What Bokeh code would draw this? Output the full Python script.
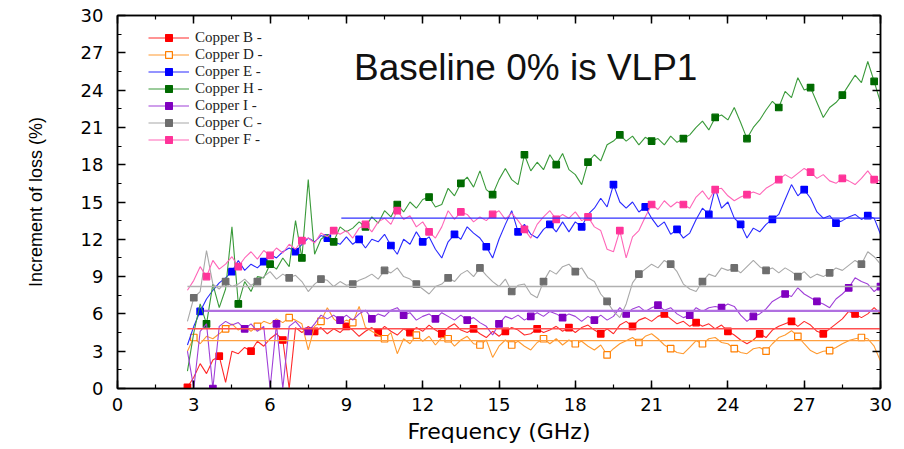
import numpy as np
from bokeh.plotting import figure
from bokeh.models import Range1d, SingleIntervalTicker, LinearAxis, Legend, LegendItem, Label
from bokeh.embed import file_html
from bokeh.resources import INLINE

# ---------------- data ----------------
freq = np.round(np.arange(2.75, 30.001, 0.25), 2)   # GHz sample grid, 110 points

copper_b = [0.1, 0.9, 2.0, 1.2, 2.3, 2.6, 0.5, 3.0, 2.8, 3.3,
            3.0, 3.8, 3.4, 4.0, 4.4, 3.9, 0.0, 4.9, 4.5, 5.0,
            4.6, 4.9, 4.4, 4.8, 4.5, 5.0, 4.7, 4.2, 4.6, 4.9,
            4.5, 5.0, 4.6, 4.3, 4.8, 4.5, 4.9, 4.6, 5.1, 4.7,
            4.4, 4.9, 5.2, 4.7, 4.5, 4.8, 4.4, 4.1, 4.6, 4.2,
            4.6, 4.9, 4.7, 4.3, 4.4, 4.8, 4.5, 4.7, 5.0, 4.6,
            4.9, 4.5, 4.9, 5.1, 4.7, 4.4, 4.8, 4.4, 5.1, 5.4,
            5.0, 5.5, 5.7, 5.4, 5.8, 6.0, 5.6, 5.2, 5.4, 5.0,
            5.3, 5.0, 5.2, 4.8, 5.1, 4.6, 4.3, 3.9, 3.6, 3.9,
            4.4, 4.1, 4.7, 5.0, 5.2, 5.4, 5.0, 5.4, 5.1, 4.6,
            4.4, 4.8, 5.2, 5.6, 6.2, 6.0, 5.7, 6.0, 6.5, 6.0]

copper_d = [3.0, 4.1, 3.6, 4.2, 4.0, 4.4, 4.8, 5.2, 4.7, 5.0,
            4.6, 5.0, 5.4, 5.2, 5.6, 5.3, 5.7, 5.5, 5.2, 3.1,
            5.0, 5.4, 6.5, 5.6, 5.2, 5.5, 5.3, 6.6, 4.9, 4.6,
            4.3, 4.0, 4.5, 2.8, 4.0, 3.6, 4.3, 3.8, 4.2, 3.5,
            4.1, 4.0, 3.4, 3.9, 4.2, 3.6, 3.5, 3.9, 2.5, 3.4,
            3.9, 3.5, 3.8, 3.4, 3.1, 3.7, 4.0, 3.6, 4.0, 3.5,
            3.9, 3.6, 3.8, 3.4, 3.1, 3.5, 2.7, 3.2, 3.6, 3.85,
            4.1, 3.7, 4.2, 4.4, 4.0, 3.5, 3.2, 2.9, 2.8, 3.3,
            3.85, 3.6, 4.0, 4.1, 3.7, 3.6, 3.2, 2.9, 2.8, 3.2,
            3.3, 3.0, 3.6, 4.1, 4.3, 4.65, 4.2, 3.6, 3.05, 2.8,
            3.0, 3.05, 3.3, 3.6, 3.85, 4.0, 4.1, 4.0, 3.4, 2.2]

copper_e = [3.5, 5.0, 6.2, 7.2, 7.9, 8.5, 8.9, 9.4, 10.3, 9.5,
            10.0, 9.7, 10.2, 10.8, 10.5, 11.0, 11.3, 11.0, 11.6, 12.1,
            11.8, 12.3, 12.1, 11.8, 11.6, 12.2, 11.6, 12.0, 11.3, 12.0,
            11.8, 12.4, 11.5, 10.8, 12.0, 11.6, 12.6, 11.8, 12.2, 11.2,
            10.5, 11.8, 12.4, 12.0, 13.0, 12.5, 12.1, 11.4, 10.5, 12.0,
            13.2, 14.3, 12.6, 13.2, 12.4, 12.1, 12.8, 13.2, 12.6, 13.4,
            12.6, 13.4, 13.0, 14.0, 14.5, 15.3, 14.6, 16.4, 15.0, 14.5,
            15.0, 14.2, 14.6, 13.7, 13.0, 13.4, 12.4, 12.8, 12.1, 12.5,
            13.6, 14.5, 14.0, 16.1, 14.5, 15.0, 13.7, 13.2, 12.1, 12.9,
            12.6, 13.2, 13.6, 14.0, 15.2, 16.4, 15.5, 16.0, 15.3, 14.2,
            13.7, 13.9, 13.3, 13.5, 13.8, 14.0, 13.6, 13.9, 13.7, 12.4]

copper_h = [1.4, 4.5, 6.8, 5.2, 8.4, 6.5, 8.0, 13.0, 6.8, 8.6,
            7.8, 9.0, 8.9, 10.0, 9.6, 10.5, 9.8, 13.5, 10.5, 16.8,
            10.8, 12.0, 12.4, 11.8, 13.0, 12.6, 12.9, 13.4, 13.0, 13.8,
            13.3, 14.3, 13.8, 14.8, 14.2, 15.0, 14.5, 15.2, 15.4, 14.6,
            14.8, 16.1, 15.5, 16.5, 17.0, 16.2, 17.5, 16.0, 15.6, 16.8,
            17.7, 16.8, 16.4, 18.8, 17.5, 18.2, 17.6, 18.8, 18.0, 18.9,
            17.6, 17.2, 16.4, 18.2, 18.8, 18.3, 19.6, 19.9, 20.4, 19.9,
            20.3, 19.6, 20.2, 19.9, 20.1, 19.6, 20.3, 19.8, 20.1, 20.4,
            21.0, 21.5, 20.8, 21.8, 22.0, 21.6, 22.6, 21.4, 20.1, 21.0,
            21.6, 22.4, 23.1, 22.6, 23.9, 23.4, 25.0, 24.0, 24.2, 23.0,
            21.8, 22.6, 23.0, 23.6, 24.4, 25.2, 24.6, 26.3, 24.7, 23.0]

copper_i = [3.0, 0.0, 4.6, 5.2, 0.0, 5.0, 5.4, 5.1, 5.3, 4.8,
            5.2, 4.6, 5.0, 0.0, 5.2, 0.0, 5.0, 5.4, 4.8, 4.6,
            5.2, 5.9, 5.6, 5.9, 5.5, 5.9, 5.5, 6.0, 6.3, 5.6,
            6.0, 5.8, 6.3, 6.5, 5.9, 6.1, 5.5, 5.8, 6.0, 5.6,
            6.1, 5.8, 5.5, 5.9, 5.5, 5.7, 5.3, 5.0, 4.3, 5.2,
            5.8, 5.6, 5.9, 5.5, 5.8, 6.1, 5.8, 6.2, 6.0, 5.7,
            6.0, 5.8, 5.4, 5.8, 5.5, 5.9, 5.5, 5.8, 6.5, 6.0,
            6.4, 6.6, 6.2, 6.5, 6.7, 6.3, 6.5, 6.0, 5.7, 5.9,
            6.5, 6.2, 6.5, 6.6, 6.5, 6.8, 6.6, 5.9, 5.4, 5.8,
            6.0, 6.4, 7.0, 7.3, 7.6, 7.4, 8.1, 7.6, 7.3, 7.0,
            6.8, 6.5, 7.2, 7.6, 8.1, 8.9, 8.6, 8.4, 7.8, 8.2]

copper_c = [5.4, 7.3, 7.8, 11.1, 8.4, 8.0, 8.6, 8.2, 8.4, 8.8,
            8.3, 8.6, 9.0, 9.4, 8.8, 9.2, 8.9, 9.1, 8.6, 7.8,
            8.4, 8.8, 8.7, 8.2, 8.6, 8.3, 8.4, 8.7, 8.9, 9.2,
            8.8, 9.5, 9.3, 9.7, 9.0, 8.8, 8.4, 8.0, 7.6, 8.2,
            8.4, 8.9, 8.6, 9.2, 9.5, 9.0, 9.7, 9.1, 8.6, 8.2,
            8.8, 7.8, 8.3, 8.4, 7.6, 7.3, 8.6, 9.5, 9.2, 9.8,
            10.0, 9.4, 9.7, 8.9, 8.6, 7.6, 7.0, 6.2, 5.7, 6.8,
            8.5, 9.2, 9.6, 10.0, 9.7, 10.3, 10.0, 9.4, 8.4, 8.0,
            7.8, 8.6, 9.2, 9.0, 9.7, 9.5, 9.7, 9.3, 9.8, 10.3,
            9.8, 9.5, 9.7, 9.3, 9.7, 9.4, 9.0, 9.4, 8.9, 9.2,
            9.0, 9.3, 9.7, 9.5, 9.9, 10.3, 10.0, 11.0, 10.6, 10.0]

copper_f = [7.9, 8.7, 9.8, 9.0, 10.3, 9.6, 10.0, 10.6, 9.8, 10.5,
            11.0, 10.4, 11.1, 10.7, 11.3, 10.9, 11.6, 11.2, 11.9, 12.1,
            11.7, 12.5, 12.2, 12.7, 12.4, 12.7, 12.1, 12.9, 13.2, 12.6,
            13.4, 13.7, 13.2, 14.3, 13.6, 13.9, 13.0, 13.4, 12.6, 12.1,
            13.0, 14.3, 13.6, 14.2, 14.0, 13.4, 13.8, 13.5, 14.0, 14.3,
            13.6, 14.1, 13.5, 12.8, 12.1, 13.2, 13.8, 14.3, 13.6, 14.0,
            13.7, 14.2, 13.5, 13.8, 13.0, 12.7, 11.2, 11.0, 12.7, 10.5,
            12.2, 12.7, 13.8, 14.8, 14.4, 15.1, 14.6, 15.0, 14.8, 14.5,
            15.4, 15.9, 15.2, 16.0, 16.1, 15.5, 15.1, 15.4, 15.6, 15.8,
            15.6, 16.1, 16.4, 16.8, 17.2, 16.9, 17.3, 17.7, 17.4, 16.9,
            17.2, 16.7, 16.5, 16.9, 16.7, 16.4, 16.9, 17.5, 16.8, 16.7]

series_names = ["Copper B -", "Copper D -", "Copper E -", "Copper H -",
                "Copper I -", "Copper C -", "Copper F -"]
series_values = [copper_b, copper_d, copper_e, copper_h, copper_i, copper_c, copper_f]

# average levels drawn as horizontal lines
mean_names = ["Copper B", "Copper D", "Copper E", "Copper I", "Copper C"]
mean_level = [4.8, 3.85, 13.7, 6.25, 8.2]
mean_start = [2.75, 3.3, 8.8, 3.4, 2.75]
mean_end = [30.0, 30.0, 30.0, 30.0, 30.0]

# ---------------- styles ----------------
line_colors = ["#FF2A2A", "#FF9A30", "#2A2AFF", "#3A9A3A", "#A040D8", "#A8A8A8", "#FF66B8"]
mark_colors = ["#FF0000", "#FF7F00", "#0000FF", "#006A00", "#8000C0", "#6E6E6E", "#FF3399"]
mark_fill = ["#FF0000", "#FFFFFF", "#0000FF", "#006A00", "#8000C0", "#6E6E6E", "#FF3399"]
mark_offset = [0, 1, 2, 3, 4, 1, 3]
mean_colors = ["#FF5050", "#FFA040", "#3030FF", "#B070E0", "#B0B0B0"]
mean_widths = [1.5, 1.3, 1.3, 2.2, 1.6]

p = figure(width=900, height=449, output_backend="svg", toolbar_location=None,
           x_range=Range1d(0, 30), y_range=Range1d(0, 30),
           min_border_left=117, min_border_right=20, min_border_top=15, min_border_bottom=61)
p.xgrid.visible = False
p.ygrid.visible = False
p.outline_line_color = "black"
p.outline_line_width = 1.5
p.background_fill_color = "white"
p.border_fill_color = "white"

renderers = []
for k, (name, vals) in enumerate(zip(series_names, series_values)):
    ln = p.line(freq, vals, line_color=line_colors[k], line_width=1.1)
    idx = list(range(mark_offset[k], len(freq), 5))
    sc = p.scatter([freq[i] for i in idx], [vals[i] for i in idx], marker="square", size=6.5,
                   line_color=mark_colors[k], fill_color=mark_fill[k], line_width=1.2)
    renderers.append((name, ln, sc))

p.segment(x0=mean_start, y0=mean_level, x1=mean_end, y1=mean_level,
          line_color=mean_colors, line_width=mean_widths)

def style_axis(ax, show_labels=True):
    ax.ticker = SingleIntervalTicker(interval=3, num_minor_ticks=2)
    ax.axis_line_width = 1.5
    ax.axis_line_color = "black"
    ax.major_tick_in = 8
    ax.major_tick_out = 0
    ax.minor_tick_in = 4
    ax.minor_tick_out = 0
    ax.major_tick_line_width = 1.5
    ax.minor_tick_line_width = 1.2
    if show_labels:
        ax.major_label_text_font = "DejaVu Sans"
        ax.major_label_text_font_size = "18px"
        ax.major_label_text_color = "black"
    else:
        ax.major_label_text_font_size = "1px"
        ax.major_label_text_color = None
        ax.major_label_standoff = 0

style_axis(p.xaxis[0])
p.xaxis[0].major_label_standoff = 9
p.xaxis[0].axis_label = "Frequency (GHz)"
p.xaxis[0].axis_label_text_font = "DejaVu Sans"
p.xaxis[0].axis_label_text_font_size = "22px"
p.xaxis[0].axis_label_text_font_style = "normal"
p.xaxis[0].axis_label_standoff = 5
p.xaxis[0].axis_label_text_color = "black"

style_axis(p.yaxis[0])
p.yaxis[0].major_label_standoff = 14
p.yaxis[0].axis_label = "Increment of loss (%)"
p.yaxis[0].axis_label_text_font = "Liberation Sans"
p.yaxis[0].axis_label_text_font_size = "18px"
p.yaxis[0].axis_label_text_font_style = "normal"
p.yaxis[0].axis_label_standoff = 32
p.yaxis[0].axis_label_text_color = "black"

top = LinearAxis()
style_axis(top, show_labels=False)
p.add_layout(top, "above")
right = LinearAxis()
style_axis(right, show_labels=False)
p.add_layout(right, "right")

items = [LegendItem(label=name, renderers=[ln, sc]) for name, ln, sc in renderers]
legend = Legend(items=items, location=(31, 240), glyph_width=41, glyph_height=17,
                label_height=17, label_standoff=6, spacing=0, padding=0, margin=0,
                border_line_color=None, background_fill_alpha=0,
                label_text_font="Liberation Serif", label_text_font_size="15px",
                label_text_color="#222222")
p.add_layout(legend)

p.add_layout(Label(x=16.05, y=25.8, text="Baseline 0% is VLP1", text_font="Liberation Sans",
                   text_font_size="37px", text_align="center", text_baseline="middle",
                   text_color="#111111"))

open("out.html", "w").write(file_html(p, INLINE))
